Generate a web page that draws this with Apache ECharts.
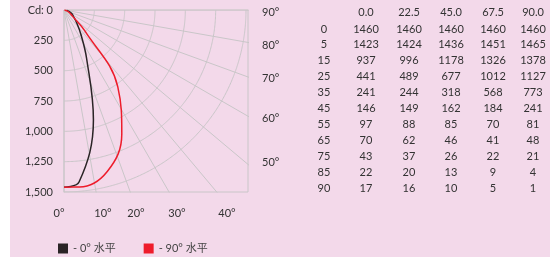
<!DOCTYPE html>
<html>
<head>
<meta charset="utf-8">
<script src="https://cdn.jsdelivr.net/npm/echarts@6/dist/echarts.min.js"></script>
<style>
  html, body { margin: 0; padding: 0; background: #fff; }
  #chart { width: 550px; height: 257px; }
</style>
</head>
<body>
<div id="chart"></div>
<script>
// gamma angles (deg from downward vertical) and C-plane headers
var gammaAngles = [0, 5, 15, 25, 35, 45, 55, 65, 75, 85, 90];
var planeLabels = ['0.0', '22.5', '45.0', '67.5', '90.0'];

// candela values per C-plane
var cd0  = [1460, 1423, 937, 441, 241, 146, 97, 70, 43, 22, 17];
var cd22 = [1460, 1424, 996, 489, 244, 149, 88, 62, 37, 20, 16];
var cd45 = [1460, 1436, 1178, 677, 318, 162, 85, 46, 26, 13, 10];
var cd67 = [1460, 1451, 1326, 1012, 568, 184, 70, 41, 22, 9, 5];
var cd90 = [1460, 1465, 1378, 1127, 773, 241, 81, 48, 21, 4, 1];

// grid of the polar diagram
var rings = [250, 500, 750, 1000, 1250, 1500];
var spokes = [0, 10, 20, 30, 40, 50, 60, 70, 80, 90];
var rightTicks = ['90°', '80°', '70°', '60°', '50°'];
var bottomTicks = ['0°', '10°', '20°', '30°', '40°'];

var GRID_L = 64, GRID_T = 10, GRID_W = 184, GRID_H = 182;
var yMax = 1500;
var xMax = yMax * GRID_W / GRID_H;

var rad = Math.PI / 180;
function toXY(angle, r) {
  return [r * Math.sin(angle * rad), r * Math.cos(angle * rad)];
}
function curve(vals) {
  return gammaAngles.map(function (a, i) { return toXY(a, vals[i]); });
}

var gridColor = '#c9c6c8';
var series = [];
spokes.forEach(function (a) {
  series.push({
    type: 'line', data: [[0, 0], toXY(a, 4000)], symbol: 'none', silent: true,
    lineStyle: { color: gridColor, width: 1 }, z: 1
  });
});
rings.forEach(function (r) {
  var pts = [];
  for (var a = 0; a <= 90; a += 1) pts.push(toXY(a, r));
  series.push({
    type: 'line', data: pts, symbol: 'none', silent: true, smooth: true,
    lineStyle: { color: gridColor, width: 1 }, z: 1
  });
});
series.push({
  name: '0° 水平', type: 'line', data: curve(cd0), symbol: 'none', smooth: 0.4,
  itemStyle: { color: '#2a2426' }, lineStyle: { color: '#2a2426', width: 1.5 }, z: 3
});
series.push({
  name: '90° 水平', type: 'line', data: curve(cd90), symbol: 'none', smooth: 0.4,
  itemStyle: { color: '#ee1c2b' }, lineStyle: { color: '#ee1c2b', width: 1.5 }, z: 4
});

var font = 'Lato, "Noto Sans CJK SC", sans-serif';
var textColor = '#333';
var graphics = [
  { type: 'rect', z: -10, shape: { x: 10, y: 0, width: 540, height: 257 }, style: { fill: '#f3d9ea' } }
];

// angle labels on the right edge and bottom edge
var rightY = [12, 45, 78, 118, 162];
rightTicks.forEach(function (t, i) {
  graphics.push({ type: 'text', x: 262, y: rightY[i],
    style: { text: t, font: '11px ' + font, fill: textColor, textVerticalAlign: 'middle' } });
});
var bottomX = [59, 103, 136, 177, 227];
bottomTicks.forEach(function (t, i) {
  graphics.push({ type: 'text', x: bottomX[i], y: 213,
    style: { text: t, font: '11px ' + font, fill: textColor, textAlign: 'center', textVerticalAlign: 'middle' } });
});

// data table
var colX = [366, 409, 451, 493, 533];
var columns = [cd0, cd22, cd45, cd67, cd90];
planeLabels.forEach(function (p, j) {
  graphics.push({ type: 'text', x: colX[j], y: 12,
    style: { text: p, font: '11px ' + font, fill: textColor, textAlign: 'center', textVerticalAlign: 'middle' } });
});
gammaAngles.forEach(function (g, i) {
  var y = 29 + i * 15.9;
  graphics.push({ type: 'text', x: 324, y: y,
    style: { text: String(g), font: '11px ' + font, fill: textColor, textAlign: 'center', textVerticalAlign: 'middle' } });
  columns.forEach(function (col, j) {
    graphics.push({ type: 'text', x: colX[j], y: y,
      style: { text: String(col[i]), font: '11px ' + font, fill: textColor, textAlign: 'center', textVerticalAlign: 'middle' } });
  });
});

var chart = echarts.init(document.getElementById('chart'));
chart.setOption({
  animation: false,
  backgroundColor: '#fff',
  grid: {
    left: GRID_L, top: GRID_T, width: GRID_W, height: GRID_H,
    show: true, borderColor: gridColor, borderWidth: 1, backgroundColor: 'transparent'
  },
  xAxis: { type: 'value', min: 0, max: xMax, show: false },
  yAxis: {
    type: 'value', min: 0, max: yMax, interval: 250, inverse: true,
    axisLine: { show: false }, axisTick: { show: false }, splitLine: { show: false },
    axisLabel: {
      margin: 11, color: textColor, fontSize: 11, fontFamily: font,
      formatter: function (v) { return v === 0 ? 'Cd: 0' : v.toLocaleString('en-US'); }
    }
  },
  legend: {
    left: 53, top: 238, itemWidth: 10, itemHeight: 10, itemGap: 28, icon: 'rect',
    data: ['0° 水平', '90° 水平'],
    formatter: function (n) { return '- ' + n; },
    textStyle: { color: '#444', fontSize: 11, fontFamily: font }
  },
  graphic: graphics,
  series: series
});
</script>
</body>
</html>
